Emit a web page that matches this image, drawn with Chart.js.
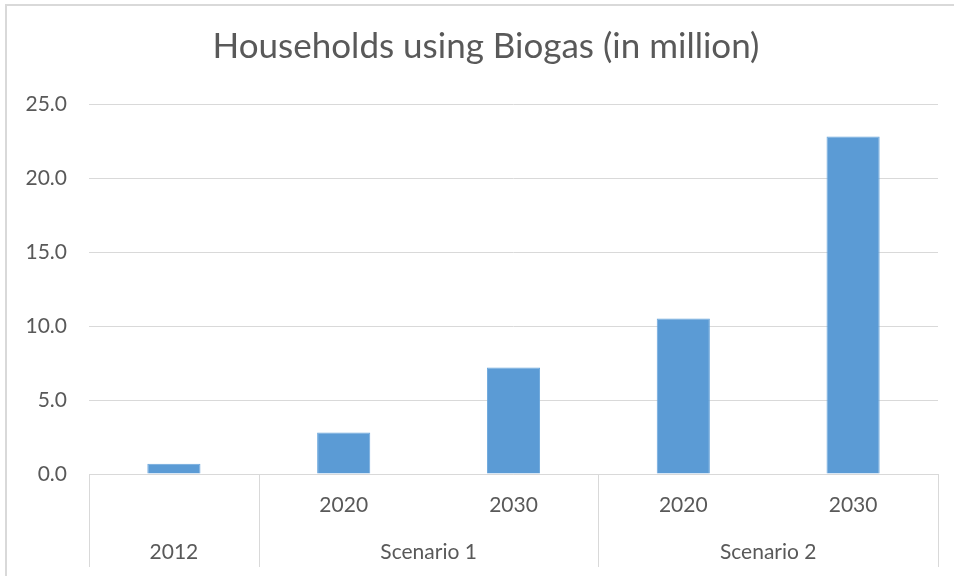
<!DOCTYPE html>
<html>
<head>
<meta charset="utf-8">
<script src="https://cdn.jsdelivr.net/npm/chart.js@4/dist/chart.umd.min.js"></script>
<style>
  html, body { margin: 0; padding: 0; background: #fff; }
  #wrap { width: 954px; height: 576px; position: relative; }
</style>
</head>
<body>
<div id="wrap"><canvas id="grafico"></canvas></div>
<script>
// Dados do gráfico
const tituloGrafico = 'Households using Biogas (in million)';
const grupos = ['2012', 'Scenario 1', 'Scenario 2'];
const tamanhoGrupos = [1, 2, 2];
const anos = ['', '2020', '2030', '2020', '2030'];
const domicilios = [0.7, 2.8, 7.2, 10.5, 22.8];
const eixoMax = 25;
const eixoPasso = 5;

const corTexto = '#595959';
const corLinha = '#d9d9d9';
const fonte = 'Lato, "Open Sans", sans-serif';

// Desenha a borda, o título, as divisórias e os rótulos de grupo do eixo X
const eixoMultinivel = {
  id: 'eixoMultinivel',
  beforeDraw(chart) {
    const ctx = chart.ctx;
    ctx.save();
    ctx.strokeStyle = corLinha;
    ctx.lineWidth = 2;
    ctx.strokeRect(6, 5, chart.width + 20, chart.height + 20);
    // título centrado na moldura completa (que passa da borda direita)
    ctx.fillStyle = corTexto;
    ctx.font = '35px ' + fonte;
    ctx.textAlign = 'center';
    ctx.textBaseline = 'alphabetic';
    ctx.fillText(tituloGrafico, 486, 58);
    ctx.restore();
  },
  afterDraw(chart) {
    const ctx = chart.ctx;
    const x = chart.scales.x;
    const area = chart.chartArea;
    const passo = (x.right - x.left) / anos.length;
    ctx.save();
    ctx.strokeStyle = corLinha;
    ctx.lineWidth = 1;
    // linha do eixo
    ctx.beginPath();
    ctx.moveTo(area.left, Math.round(area.bottom) + 0.5);
    ctx.lineTo(area.right, Math.round(area.bottom) + 0.5);
    ctx.stroke();
    // divisórias entre grupos
    let indice = 0;
    const limites = [0];
    tamanhoGrupos.forEach(n => { indice += n; limites.push(indice); });
    limites.forEach(i => {
      const px = Math.round(x.left + i * passo) + 0.5;
      ctx.beginPath();
      ctx.moveTo(px, area.bottom);
      ctx.lineTo(px, x.bottom);
      ctx.stroke();
    });
    // rótulos dos grupos
    ctx.fillStyle = corTexto;
    ctx.font = '21px ' + fonte;
    ctx.textAlign = 'center';
    ctx.textBaseline = 'middle';
    grupos.forEach((g, k) => {
      const meio = x.left + (limites[k] + limites[k + 1]) / 2 * passo;
      ctx.fillText(g, meio, area.bottom + 78);
    });
    ctx.restore();
  }
};

const ctxGrafico = document.getElementById('grafico').getContext('2d');
new Chart(ctxGrafico, {
  type: 'bar',
  data: {
    labels: anos,
    datasets: [{
      label: 'Households',
      data: domicilios,
      backgroundColor: '#5b9bd5',
      borderColor: '#6aa6dc',
      borderWidth: 1,
      categoryPercentage: 1,
      barPercentage: 0.313
    }]
  },
  options: {
    responsive: true,
    maintainAspectRatio: false,
    animation: false,
    layout: { padding: { left: 0, right: 16, top: 104, bottom: 9 } },
    plugins: {
      legend: { display: false },
      tooltip: { enabled: false },
      title: { display: false }
    },
    scales: {
      x: {
        grid: { display: false, drawTicks: false },
        border: { display: false },
        ticks: {
          color: corTexto,
          font: { family: fonte, size: 21 },
          padding: 19,
          maxRotation: 0,
          autoSkip: false
        },
        afterFit: s => { s.height = 93; }
      },
      y: {
        min: 0,
        max: eixoMax,
        grid: { color: corLinha, drawTicks: false },
        border: { display: false },
        ticks: {
          stepSize: eixoPasso,
          color: corTexto,
          font: { family: fonte, size: 21 },
          padding: 22,
          callback: v => v.toFixed(1)
        },
        afterFit: s => { s.width = 89; }
      }
    }
  },
  plugins: [eixoMultinivel]
});
</script>
</body>
</html>
